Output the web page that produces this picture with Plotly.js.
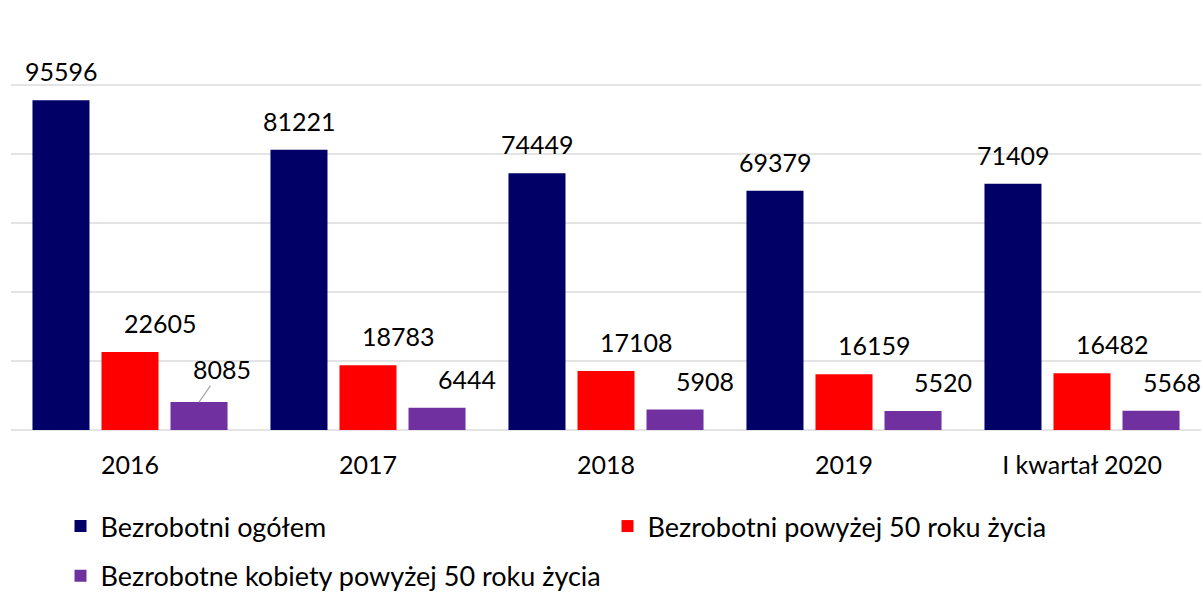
<!DOCTYPE html>
<html>
<head>
<meta charset="utf-8">
<script src="https://cdn.plot.ly/plotly-3.0.1.min.js"></script>
<style>html,body{margin:0;padding:0;background:#fff;}#chart{width:1203px;height:592px;}</style>
</head>
<body>
<div id="chart"></div>
<script>
const categories = ['2016', '2017', '2018', '2019', 'I kwartał 2020'];
const ogolem = [95596, 81221, 74449, 69379, 71409];
const powyzej50 = [22605, 18783, 17108, 16159, 16482];
const kobiety50 = [8085, 6444, 5908, 5520, 5568];
const seriesNames = ['Bezrobotni ogółem', 'Bezrobotni powyżej 50 roku życia', 'Bezrobotne kobiety powyżej 50 roku życia'];

const FONT = 'Lato, "Open Sans", sans-serif';
const FS = 25;
const colors = ['#000066', '#FF0000', '#7030A0'];
const series = [ogolem, powyzej50, kobiety50];

const traces = series.map((vals, i) => ({
  type: 'bar',
  x: categories,
  y: vals,
  name: seriesNames[i],
  marker: {color: colors[i], line: {width: 0}},
  legend: i === 2 ? 'legend2' : 'legend',
  hoverinfo: 'skip'
}));

// label x offsets in px relative to category center (bar slot + label shift)
const labelShift = [-69, 30, 99];
const annotations = [];
series.forEach((vals, i) => {
  vals.forEach((v, j) => {
    const a = {
      x: j, y: v, xref: 'x', yref: 'y',   // j = category index on the category axis
      text: String(v), showarrow: false,
      xanchor: 'center', yanchor: 'middle',
      xshift: labelShift[i], yshift: 29,
      font: {family: FONT, size: FS, color: '#000'}
    };
    if (i === 2 && j === 0) {
      a.showarrow = true; a.ax = 23; a.ay = -33; a.arrowhead = 0;
      a.arrowcolor = '#a6a6a6'; a.arrowwidth = 1.2; a.xshift = 69; a.yshift = 0; a.standoff = 0;
    }
    if (i === 2 && j === 4) {
      a.xshift = 90;
    }
    annotations.push(a);
  });
});

const legendFont = {family: FONT, size: 27, color: '#000'};

const layout = {
  width: 1203, height: 592,
  margin: {l: 11, r: 2, t: 16, b: 162, autoexpand: false},
  paper_bgcolor: '#fff', plot_bgcolor: '#fff',
  barmode: 'group', bargap: 0.13, bargroupgap: 0.174,
  font: {family: FONT, size: FS, color: '#000'},
  xaxis: {
    type: 'category', range: [-0.5, 4.5], showgrid: false, showline: false, zeroline: false,
    ticks: '', ticklabelstandoff: 18,
    tickfont: {family: FONT, size: FS, color: '#000'}
  },
  yaxis: {
    range: [0, 120000], dtick: 20000, showticklabels: false,
    showgrid: true, gridcolor: '#e4e4e4', gridwidth: 1.2,
    zeroline: true, zerolinecolor: '#e4e4e4', zerolinewidth: 1.2, showline: false
  },
  showlegend: true,
  legend: {
    orientation: 'h', xref: 'container', yref: 'container',
    x: 0.0503, xanchor: 'left', y: 0.152, yanchor: 'top',
    entrywidth: 502, entrywidthmode: 'pixels', itemwidth: 30,
    font: legendFont, bgcolor: 'rgba(0,0,0,0)'
  },
  legend2: {
    orientation: 'h', xref: 'container', yref: 'container',
    x: 0.0503, xanchor: 'left', y: 0.068, yanchor: 'top',
    itemwidth: 30,
    font: legendFont, bgcolor: 'rgba(0,0,0,0)'
  },
  annotations: annotations
};

Plotly.newPlot('chart', traces, layout, {displayModeBar: false, staticPlot: true});
</script>
</body>
</html>
